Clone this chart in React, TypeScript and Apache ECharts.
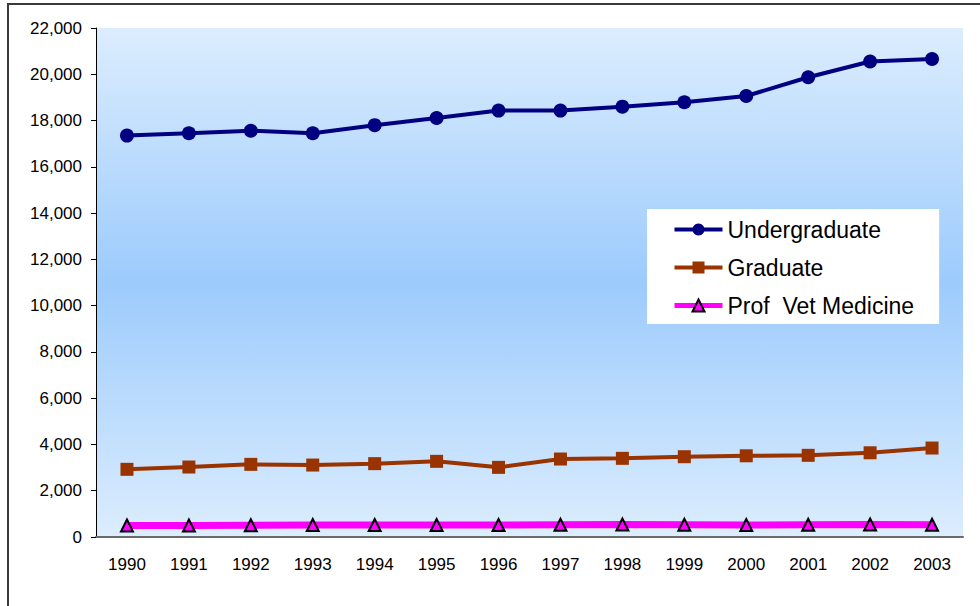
import React, { useEffect, useRef } from "react";
import * as echarts from "echarts";

const years = ["1990", "1991", "1992", "1993", "1994", "1995", "1996", "1997", "1998", "1999", "2000", "2001", "2002", "2003"];
const undergraduate = [17350, 17450, 17560, 17450, 17800, 18110, 18430, 18430, 18600, 18790, 19060, 19870, 20550, 20660];
const graduate = [2925, 3025, 3140, 3110, 3170, 3270, 3010, 3370, 3400, 3470, 3510, 3530, 3640, 3845];
const profVet = [500, 500, 510, 520, 520, 520, 520, 530, 540, 530, 520, 530, 540, 530];
const seriesNames = ["Undergraduate", "Graduate", "Prof  Vet Medicine"];

const FONT = "'Liberation Sans', Arial, sans-serif";

export default function App() {
  const ref = useRef<HTMLDivElement>(null);
  useEffect(() => {
    if (!ref.current) return;
    const chart = echarts.init(ref.current, null, { renderer: "svg" });
    chart.setOption({
      animation: false,
      backgroundColor: "#ffffff",
      textStyle: { fontFamily: FONT },
      graphic: [
        {
          type: "rect",
          shape: { x: 8, y: 4, width: 1100, height: 800 },
          style: { fill: "none", stroke: "#3a3a3a", lineWidth: 2 },
          silent: true,
          z: 0,
        },
      ],
      grid: {
        left: 96,
        top: 28,
        right: 17,
        bottom: 69,
        show: true,
        borderWidth: 0,
        backgroundColor: new echarts.graphic.LinearGradient(0, 0, 0, 1, [
          { offset: 0, color: "#dcedfe" },
          { offset: 0.5, color: "#9ccbfc" },
          { offset: 1, color: "#dcedfe" },
        ]),
      },
      legend: {
        orient: "vertical",
        left: 647,
        top: 209,
        backgroundColor: "#ffffff",
        padding: [9, 25, 7, 25],
        itemWidth: 48,
        itemHeight: 15,
        itemGap: 15,
        textStyle: { fontFamily: FONT, fontSize: 23, color: "#000000" },
        data: [
          { name: seriesNames[0], lineStyle: { width: 4 } },
          { name: seriesNames[1], lineStyle: { width: 4 } },
          { name: seriesNames[2], lineStyle: { width: 5 } },
        ],
      },
      xAxis: {
        type: "category",
        data: years,
        boundaryGap: true,
        axisLine: { show: true, lineStyle: { color: "#6b6b6b", width: 2 } },
        axisTick: { show: false },
        axisLabel: { fontFamily: FONT, fontSize: 17, color: "#000000", margin: 19 },
        splitLine: { show: false },
      },
      yAxis: {
        type: "value",
        min: 0,
        max: 22000,
        interval: 2000,
        axisLine: { show: true, lineStyle: { color: "#000000", width: 1 } },
        axisTick: { show: true, length: 5, lineStyle: { color: "#000000" } },
        axisLabel: {
          fontFamily: FONT,
          fontSize: 17,
          color: "#000000",
          margin: 14,
          formatter: (v: number) => v.toLocaleString("en-US"),
        },
        splitLine: { show: false },
      },
      series: [
        {
          name: seriesNames[0],
          type: "line",
          data: undergraduate,
          symbol: "circle",
          symbolSize: 14,
          lineStyle: { color: "#000080", width: 4 },
          itemStyle: { color: "#000080" },
        },
        {
          name: seriesNames[1],
          type: "line",
          data: graduate,
          symbol: "rect",
          symbolSize: 13,
          lineStyle: { color: "#993300", width: 4 },
          itemStyle: { color: "#993300" },
        },
        {
          name: seriesNames[2],
          type: "line",
          data: profVet,
          symbol: "triangle",
          symbolSize: 12,
          lineStyle: { color: "#ff00ff", width: 7 },
          itemStyle: { color: "#ff00ff", borderColor: "#000000", borderWidth: 2 },
        },
      ],
    });
    return () => chart.dispose();
  }, []);
  return (
    <div
      ref={ref}
      style={{ position: "absolute", left: 0, top: 0, width: 980, height: 606 }}
    />
  );
}
